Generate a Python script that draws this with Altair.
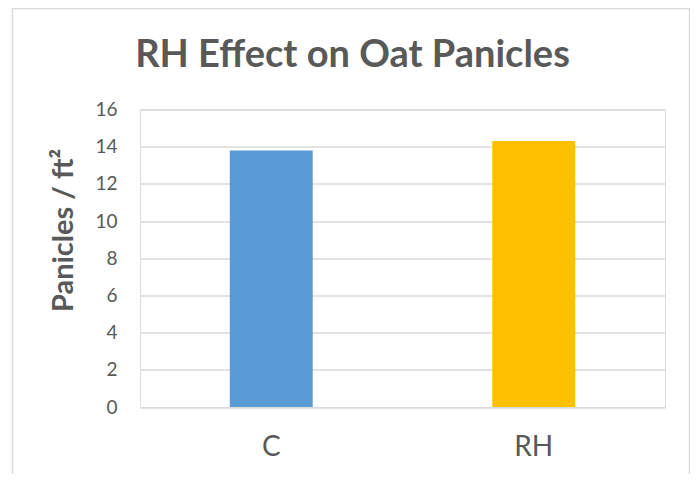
import altair as alt
import pandas as pd

categories = ["C", "RH"]
values = [13.8, 14.3]
colors = ["#5B9BD5", "#FFC000"]
y_ticks = [0, 2, 4, 6, 8, 10, 12, 14, 16]

df = pd.DataFrame({"treatment": categories, "panicles": values})

base = alt.Chart(df)

frame = alt.Chart(pd.DataFrame({"k": [0]})).mark_rect(
    filled=False, stroke="#d9d9d9", strokeWidth=1.5
).encode(
    x=alt.value(-127.5), x2=alt.value(549.5), y=alt.value(-101), y2=alt.value(380)
)

bars = base.mark_bar().encode(
    x=alt.X(
        "treatment:N",
        sort=categories,
        scale=alt.Scale(paddingInner=0.684, paddingOuter=0.342),
        axis=alt.Axis(
            title=None, labelAngle=0, ticks=False, domain=False, grid=False,
            labelFont="Lato", labelFontSize=28, labelColor="#595959",
            labelPadding=26,
        ),
    ),
    y=alt.Y(
        "panicles:Q",
        scale=alt.Scale(domain=[0, 16], nice=False),
        axis=alt.Axis(
            values=y_ticks, title="Panicles / ft²", ticks=False, domain=False,
            grid=True, gridColor="#d9d9d9", gridWidth=1.5,
            labelFont="Lato", labelFontSize=19, labelColor="#595959", labelPadding=23,
            titleFont="Lato", titleFontSize=29, titleFontWeight="bold", titleColor="#595959",
            titleAngle=270, titleX=-77, titleY=120.5, titleAlign="center", titleBaseline="middle",
        ),
    ),
    color=alt.Color("treatment:N", scale=alt.Scale(domain=categories, range=colors), legend=None),
)

chart = alt.layer(frame, bars).properties(
    width=525,
    height=297.5,
    title=alt.TitleParams(
        "RH Effect on Oat Panicles", font="Lato", fontSize=38, fontWeight="bold",
        color="#595959", anchor="middle", dx=-50, offset=-97, baseline="alphabetic",
    ),
    padding={"left": 132, "top": 101.5, "right": 25, "bottom": 67},
    autosize=alt.AutoSizeParams(type="none"),
).configure_view(stroke=None).configure(background="white")

chart.save("out.html", embed_options={"renderer": "svg", "actions": False})
